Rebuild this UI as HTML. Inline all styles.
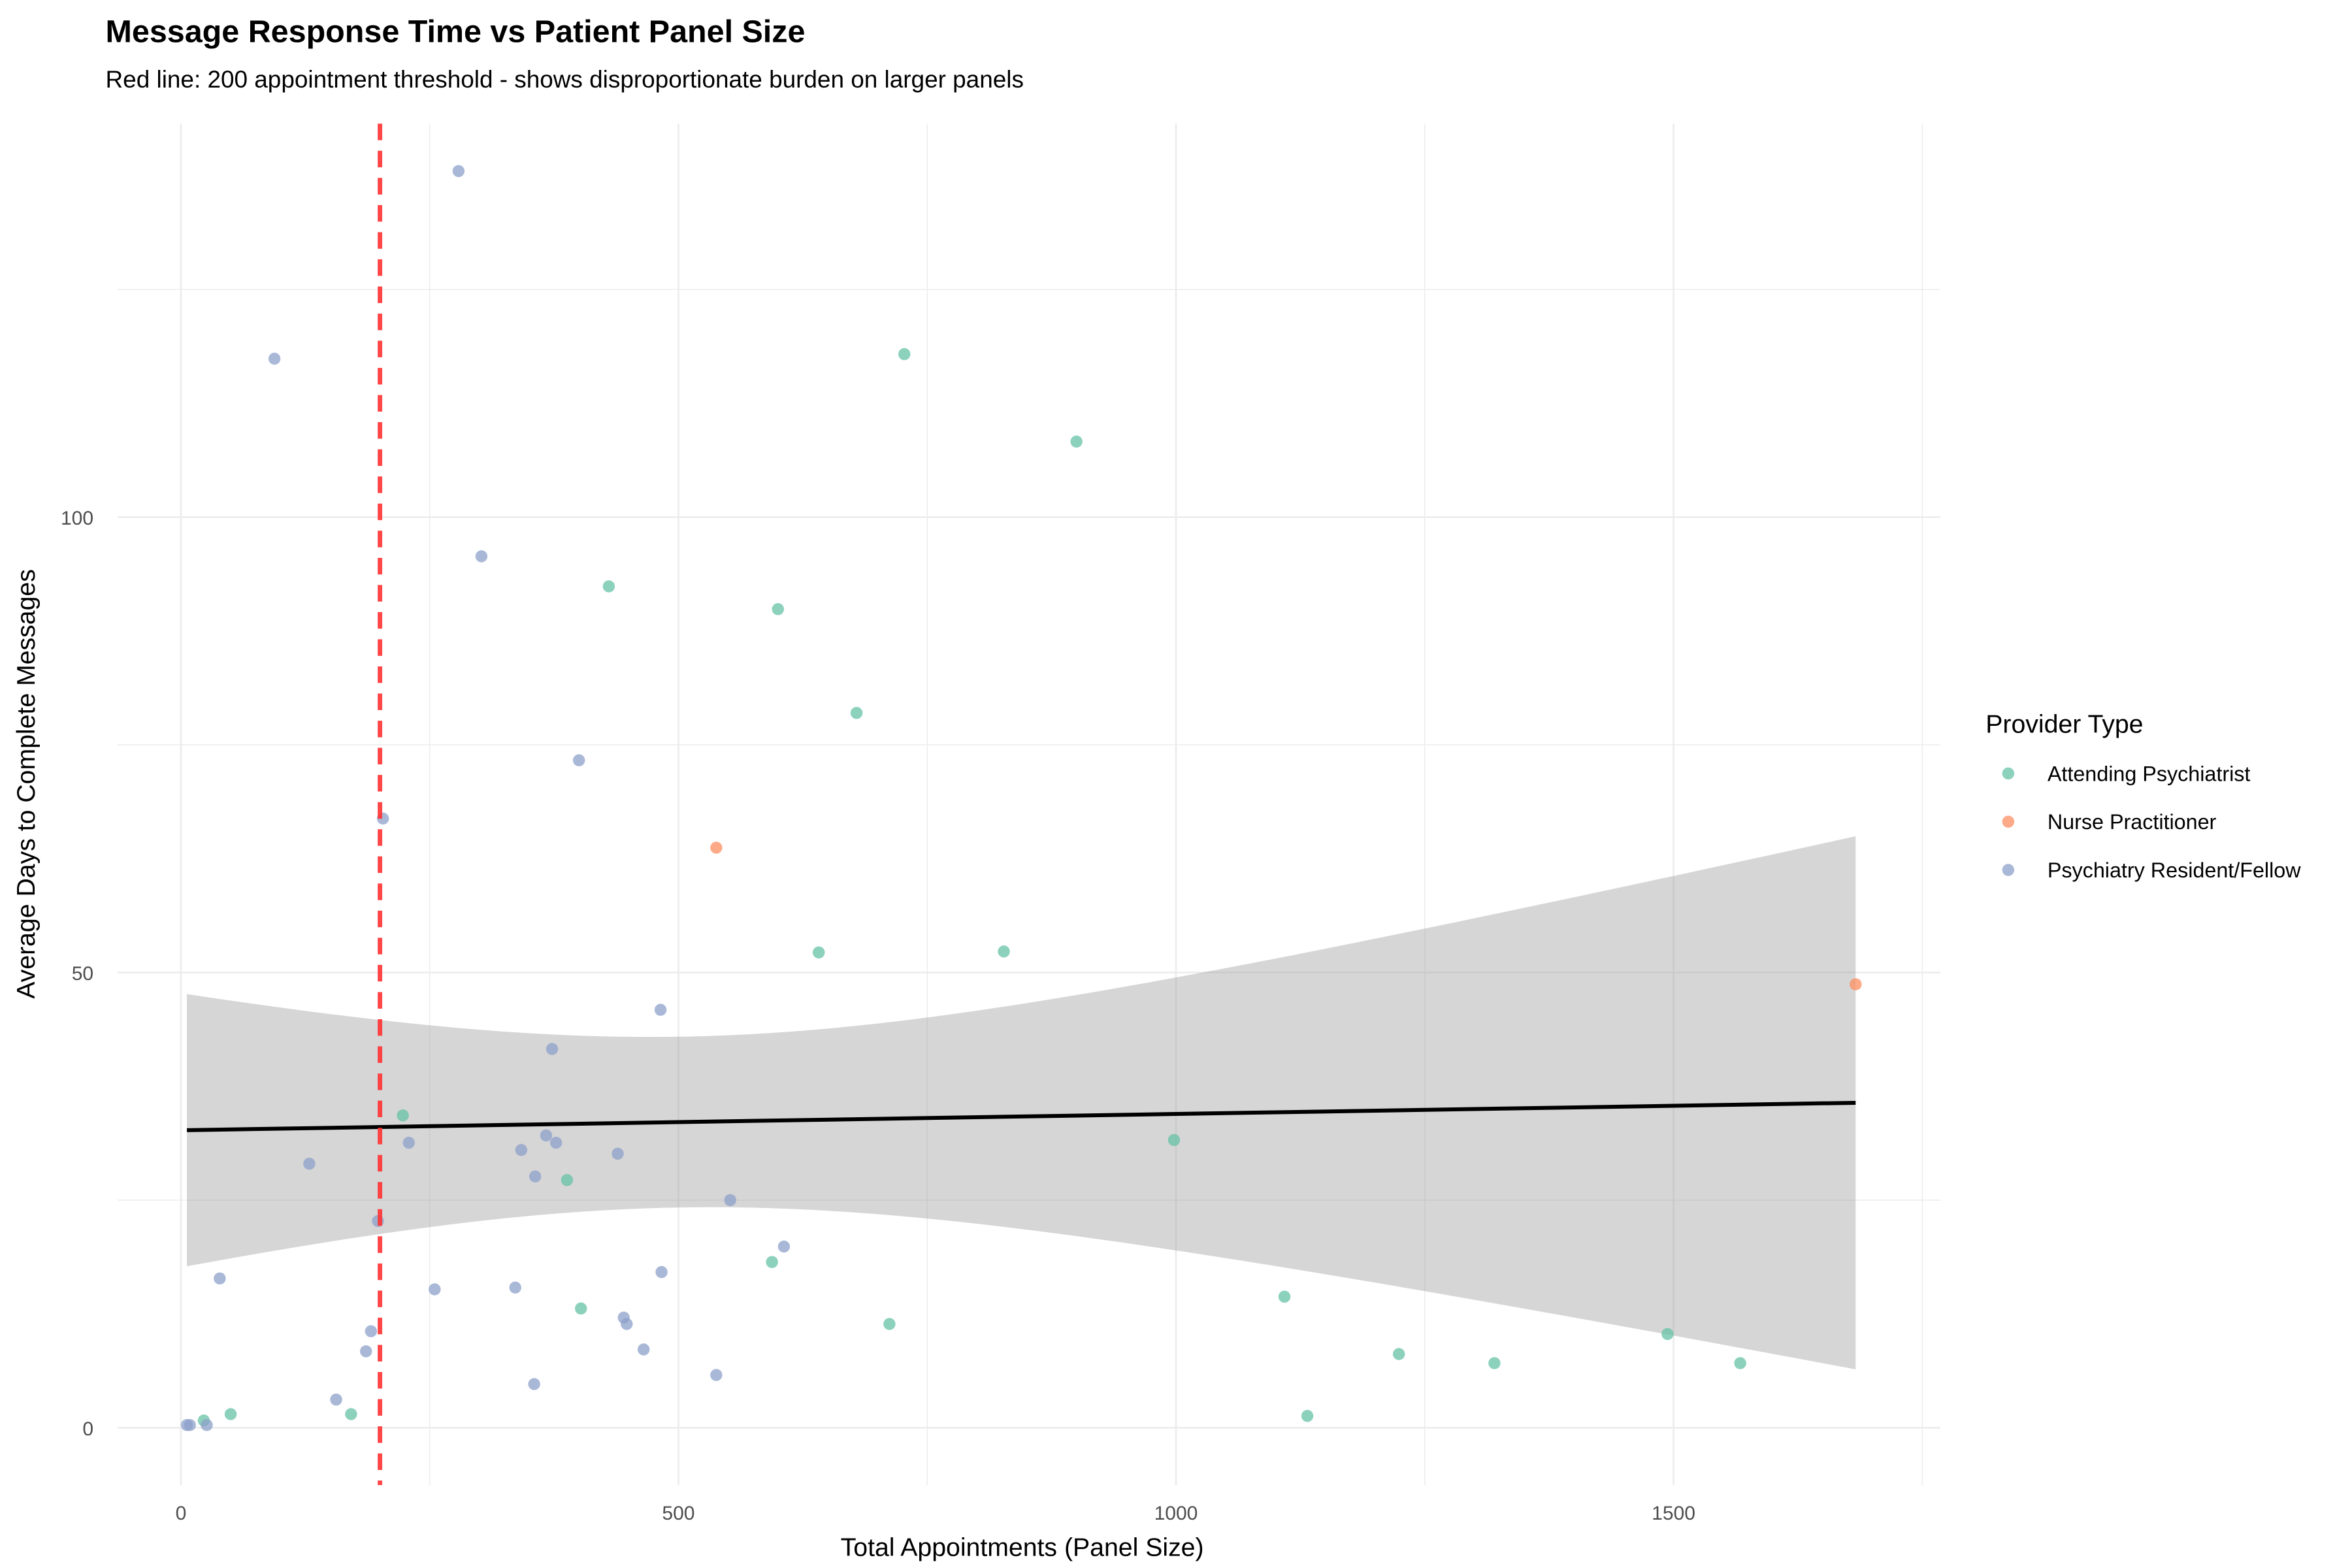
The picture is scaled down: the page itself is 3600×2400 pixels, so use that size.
<!DOCTYPE html>
<html><head><meta charset="utf-8"><style>
html,body{margin:0;padding:0;background:#fff}
svg{display:block;font-family:"Liberation Sans",Arial,sans-serif}
</style></head><body>
<svg id="chart" width="3600" height="2400" viewBox="0 0 1560 1040" xmlns="http://www.w3.org/2000/svg">
<rect width="1560" height="1040" fill="#fff"/>
<g id="grid"></g>
<g id="ribbon"></g>
<g id="points"></g>
<g id="fit"></g>
<g id="axes"></g>
<text x="70" y="28" font-size="21" font-weight="bold" fill="#000">Message Response Time vs Patient Panel Size</text>
<text x="70" y="58" font-size="16" fill="#000">Red line: 200 appointment threshold - shows disproportionate burden on larger panels</text>
<text x="678" y="1032" font-size="17" text-anchor="middle" fill="#000">Total Appointments (Panel Size)</text>
<text transform="translate(23,520) rotate(-90)" font-size="17" text-anchor="middle" fill="#000">Average Days to Complete Messages</text>
<g>
<text x="1317" y="486" font-size="17" fill="#000">Provider Type</text>
<circle cx="1332" cy="513" r="4" fill="#66C2A5" fill-opacity="0.75"/>
<text x="1358" y="518" font-size="14">Attending Psychiatrist</text>
<circle cx="1332" cy="545" r="4" fill="#FC8D62" fill-opacity="0.75"/>
<text x="1358" y="550" font-size="14">Nurse Practitioner</text>
<circle cx="1332" cy="577" r="4" fill="#8DA0CB" fill-opacity="0.75"/>
<text x="1358" y="582" font-size="14">Psychiatry Resident/Fellow</text>
</g>
</svg>
<script>
const residentX=[279,94,302,400,203,482,373,229,129,367,342,377,439,356,552,198,606,483,39,255,336,445,448,191,465,186,538,355,156,6,9,26];
const residentY=[138,117.4,95.7,73.3,66.9,45.9,41.6,31.3,29,32.1,30.5,31.3,30.1,27.6,25,22.7,19.9,17.1,16.4,15.2,15.4,12.1,11.4,10.6,8.6,8.4,5.8,4.8,3.1,0.3,0.3,0.3];
const attendingX=[727,900,430,600,679,641,827,223,998,388,594,402,712,1109,1224,1320,1494,1567,1132,171,50,23];
const attendingY=[117.9,108.3,92.4,89.9,78.5,52.2,52.3,34.3,31.6,27.2,18.2,13.1,11.4,14.4,8.1,7.1,10.3,7.1,1.3,1.5,1.5,0.8];
const npX=[538,1683];
const npY=[63.7,48.7];
const xTicks=[0,500,1000,1500];
const yTicks=[0,50,100];
const threshold=200;
const NS="http://www.w3.org/2000/svg";
const X=v=>120+v*0.66;
const Y=v=>947-v*6.04;
function mk(tag,attrs,parent){const e=document.createElementNS(NS,tag);for(const k in attrs)e.setAttribute(k,attrs[k]);parent.appendChild(e);return e;}
const L=78,R=1287,T=82,B=985;
const grid=document.getElementById('grid');
for(let v=0;v<=1750;v+=250){const l=mk('line',{x1:X(v),x2:X(v),y1:T,y2:B,stroke:'#ebebeb','stroke-width':v%500===0?1.1:0.6},grid);

}
for(let v=0;v<=125;v+=25){const l=mk('line',{x1:L,x2:R,y1:Y(v),y2:Y(v),stroke:'#ebebeb','stroke-width':v%50===0?1.1:0.6},grid);

}
const axes=document.getElementById('axes');
xTicks.forEach(v=>{const t=mk('text',{x:X(v),y:1008,'font-size':13,fill:'#4d4d4d','text-anchor':'middle'},axes);t.textContent=v;

});
yTicks.forEach(v=>{const t=mk('text',{x:62,y:Y(v)+5,'font-size':13,fill:'#4d4d4d','text-anchor':'end'},axes);t.textContent=v;

});
const allX=residentX.concat(attendingX,npX),allY=residentY.concat(attendingY,npY);
const n=allX.length,mx=allX.reduce((p,q)=>p+q)/n,my=allY.reduce((p,q)=>p+q)/n;
let sxx=0,sxy=0;for(let i=0;i<n;i++){sxx+=(allX[i]-mx)**2;sxy+=(allX[i]-mx)*(allY[i]-my);}
const slope=sxy/sxx,icpt=my-slope*mx;let sse=0;for(let i=0;i<n;i++)sse+=(allY[i]-icpt-slope*allX[i])**2;
const sd=Math.sqrt(sse/(n-2)),tq=2.0;
const x0=Math.min(...allX),x1=Math.max(...allX);
let up=[],lo=[];
for(let k=0;k<=80;k++){const x=x0+(x1-x0)*k/80,f=icpt+slope*x,se=sd*Math.sqrt(1/n+(x-mx)**2/sxx);
up.push(X(x)+','+Y(f+tq*se));lo.unshift(X(x)+','+Y(f-tq*se));}
const rb=mk('polygon',{points:up.concat(lo).join(' '),fill:'#999','fill-opacity':0.4},document.getElementById('ribbon'));


const pts=document.getElementById('points');
function series(xs,ys,col,name){xs.forEach((x,i)=>{const c=mk('circle',{cx:X(x),cy:Y(ys[i]),r:4,fill:col,'fill-opacity':0.75},pts);

});}
series(attendingX,attendingY,'#66C2A5','point-attending');
series(npX,npY,'#FC8D62','point-nurse-practitioner');
series(residentX,residentY,'#8DA0CB','point-resident');
const fl=mk('line',{x1:X(x0),y1:Y(icpt+slope*x0),x2:X(x1),y2:Y(icpt+slope*x1),stroke:'#000','stroke-width':2.6},document.getElementById('fit'));


const th=mk('line',{x1:X(threshold),x2:X(threshold),y1:T,y2:B,stroke:'#ff3333','stroke-width':3,'stroke-dasharray':'11,7','stroke-opacity':0.9},document.getElementById('fit'));


</script>
</body></html>
